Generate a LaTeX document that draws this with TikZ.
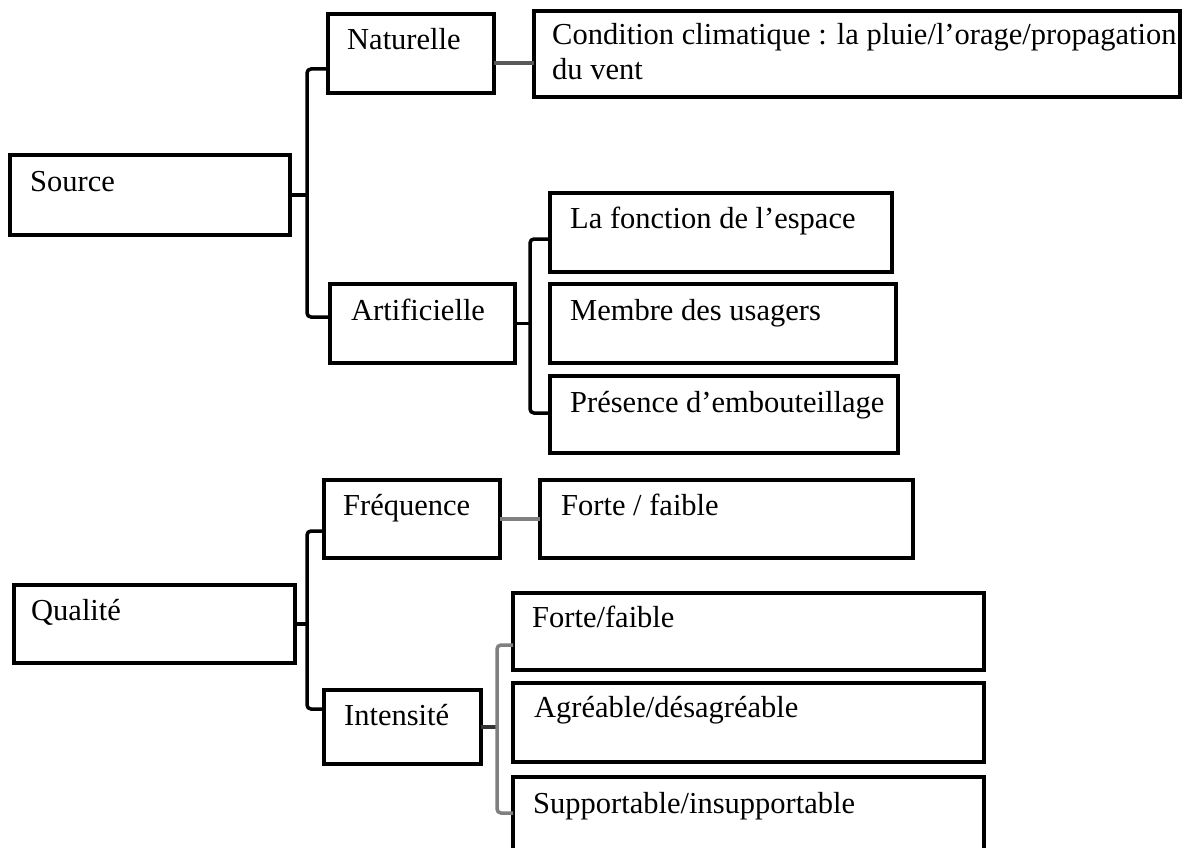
\documentclass[tikz,border=0pt]{standalone}
\usepackage{fontspec}
\setmainfont{Liberation Serif}
\tikzset{
	boite/.style={draw, line width=3.5pt, outer sep=0pt, inner sep=0pt, anchor=north west},
	texte/.style={anchor=base west, inner sep=0pt, font=\fontsize{30.5}{35}\selectfont},
	lien/.style={line width=3.5pt, rounded corners=4pt},
	liengris/.style={lien, draw=gray}
}
\begin{document}
\begin{tikzpicture}[x=1pt, y=-1pt]
			\useasboundingbox (0,0) rectangle (1184,848);
			\fill[white] (0,0) rectangle (1184,848);
			\clip (0,0) rectangle (1184,848);
			% Source
			\node[boite, minimum width=280pt, minimum height=80pt] (src) at (10,155) {};
			\node[texte] (srcT) at ([shift={(20,37)}]src.north west) {Source};
			\node[boite, minimum width=166pt, minimum height=79pt] (nat) at (328,14) {};
			\node[texte] (natT) at ([shift={(19,36)}]nat.north west) {Naturelle};
			\node[boite, minimum width=646pt, minimum height=86pt] (clim) at (534,11) {};
			\node[texte, text width=630pt, align=flush left] (climT) at ([shift={(18,34)}]clim.north west) {Condition climatique : la pluie/l’orage/propagation\\du vent};
			\node[boite, minimum width=185pt, minimum height=79pt] (art) at (330,284) {};
			\node[texte] (artT) at ([shift={(21,36)}]art.north west) {Artificielle};
			\node[boite, minimum width=342pt, minimum height=79pt] (fonc) at (550,193) {};
			\node[texte] (foncT) at ([shift={(20,35)}]fonc.north west) {La fonction de l’espace};
			\node[boite, minimum width=346pt, minimum height=79pt] (memb) at (550,284) {};
			\node[texte] (membT) at ([shift={(20,36)}]memb.north west) {Membre des usagers};
			\node[boite, minimum width=348pt, minimum height=77pt] (pres) at (550,376) {};
			\node[texte] (presT) at ([shift={(20,36)}]pres.north west) {Présence d’embouteillage};
			% Qualite
			\node[boite, minimum width=281pt, minimum height=78pt] (qual) at (14,585) {};
			\node[texte] (qualT) at ([shift={(17,35)}]qual.north west) {Qualité};
			\node[boite, minimum width=176pt, minimum height=78pt] (freq) at (324,480) {};
			\node[texte] (freqT) at ([shift={(19,35)}]freq.north west) {Fréquence};
			\node[boite, minimum width=373pt, minimum height=78pt] (forf) at (540,480) {};
			\node[texte] (forfT) at ([shift={(21,35)}]forf.north west) {Forte / faible};
			\node[boite, minimum width=157pt, minimum height=74pt] (inten) at (324,690) {};
			\node[texte] (intenT) at ([shift={(20,35)}]inten.north west) {Intensité};
			\node[boite, minimum width=471pt, minimum height=77pt] (fort) at (513,593) {};
			\node[texte] (fortT) at ([shift={(19,34)}]fort.north west) {Forte/faible};
			\node[boite, minimum width=471pt, minimum height=79pt] (agre) at (513,683) {};
			\node[texte] (agreT) at ([shift={(21,34)}]agre.north west) {Agréable/désagréable};
			\node[boite, minimum width=471pt, minimum height=100pt] (supp) at (513,777) {};
			\node[texte] (suppT) at ([shift={(20,36)}]supp.north west) {Supportable/insupportable};
			% accolades
			\coordinate (b1h) at (307,69);
			\coordinate (b1b) at (307,317);
			\coordinate (b2h) at (530,239);
			\coordinate (b2b) at (530,413);
			\coordinate (b3h) at (307,531);
			\coordinate (b3b) at (307,709);
			\coordinate (b4h) at (497,645);
			\coordinate (b4b) at (497,813);
			\draw[lien] (src.east) -- (src.east -| b1h);
			\draw[lien] (nat.west |- b1h) -- (b1h) -- (b1b) -- (art.west |- b1b);
			\draw[lien, draw=black!65] ([yshift=-9.5pt]nat.east) -- ([yshift=-9.5pt]nat.east -| clim.west);
			\draw[lien] (art.east) -- (art.east -| b2h);
			\draw[lien] (fonc.west |- b2h) -- (b2h) -- (b2b) -- (pres.west |- b2b);
			\draw[lien] (qual.east) -- (qual.east -| b3h);
			\draw[lien] (freq.west |- b3h) -- (b3h) -- (b3b) -- (inten.west |- b3b);
			\draw[liengris] (freq) -- (forf);
			\draw[lien, draw=black!80] (inten.east) -- (inten.east -| b4h);
			\draw[liengris] (fort.west |- b4h) -- (b4h) -- (b4b) -- (supp.west |- b4b);
\end{tikzpicture}
\end{document}
